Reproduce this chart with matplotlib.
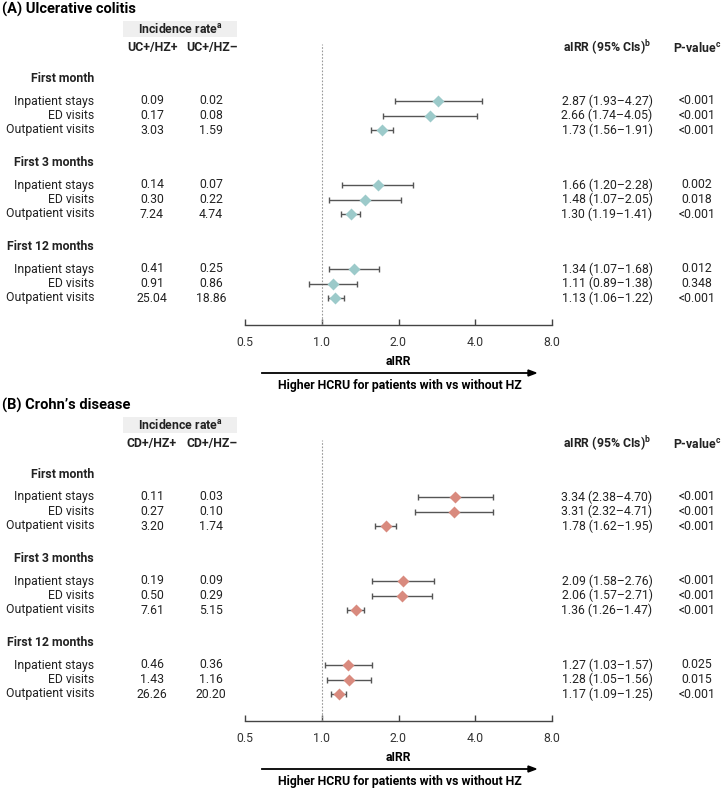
import matplotlib.pyplot as plt
from matplotlib.patches import Rectangle

plt.rcParams['font.family'] = ['Roboto', 'DejaVu Sans']

W, H = 722, 792

row_labels = ['Inpatient stays', 'ED visits', 'Outpatient visits']
period_labels = ['First month', 'First 3 months', 'First 12 months']

# Ulcerative colitis
uc_rate_pos = ['0.09', '0.17', '3.03', '0.14', '0.30', '7.24', '0.41', '0.91', '25.04']
uc_rate_neg = ['0.02', '0.08', '1.59', '0.07', '0.22', '4.74', '0.25', '0.86', '18.86']
uc_airr = [2.87, 2.66, 1.73, 1.66, 1.48, 1.30, 1.34, 1.11, 1.13]
uc_lo = [1.93, 1.74, 1.56, 1.20, 1.07, 1.19, 1.07, 0.89, 1.06]
uc_hi = [4.27, 4.05, 1.91, 2.28, 2.05, 1.41, 1.68, 1.38, 1.22]
uc_p = ['<0.001', '<0.001', '<0.001', '0.002', '0.018', '<0.001', '0.012', '0.348', '<0.001']

# Crohn's disease
cd_rate_pos = ['0.11', '0.27', '3.20', '0.19', '0.50', '7.61', '0.46', '1.43', '26.26']
cd_rate_neg = ['0.03', '0.10', '1.74', '0.09', '0.29', '5.15', '0.36', '1.16', '20.20']
cd_airr = [3.34, 3.31, 1.78, 2.09, 2.06, 1.36, 1.27, 1.28, 1.17]
cd_lo = [2.38, 2.32, 1.62, 1.58, 1.57, 1.26, 1.03, 1.05, 1.09]
cd_hi = [4.70, 4.71, 1.95, 2.76, 2.71, 1.47, 1.57, 1.56, 1.25]
cd_p = ['<0.001', '<0.001', '<0.001', '<0.001', '<0.001', '<0.001', '0.025', '0.015', '<0.001']

xticks = [0.5, 1.0, 2.0, 4.0, 8.0]

fig = plt.figure(figsize=(W / 100, H / 100), dpi=100)


def fx(x):
    return x / W


def fy(y):
    return 1 - y / H


def txt(x, y, s, **kw):
    kw.setdefault('fontsize', 8.8)
    kw.setdefault('va', 'center')
    kw.setdefault('color', '#222222')
    fig.text(fx(x), fy(y), s, **kw)


def panel(top, title, grp, rate_pos, rate_neg, airr, lo, hi, pvals, color):
    # y pixel offsets relative to panel top
    txt(2, top + 9, title, fontsize=10.5, weight='bold', ha='left', color='black')
    fig.add_artist(Rectangle((fx(123), fy(top + 37)), fx(237) - fx(123), 16 / H,
                             fc='#efefef', ec='none', zorder=0))
    txt(180, top + 29, 'Incidence rate$^{\\mathregular{a}}$', weight='bold', ha='center')
    txt(152, top + 48, grp + '+/HZ+', weight='bold', ha='center')
    txt(212, top + 48, grp + '+/HZ\u2013', weight='bold', ha='center')
    txt(607, top + 48, 'aIRR (95% CIs)$^{\\mathregular{b}}$', weight='bold', ha='center')
    txt(697, top + 48, 'P-value$^{\\mathregular{c}}$', weight='bold', ha='center')

    period_y = [top + 78, top + 162, top + 246]
    ys = []
    for k, py in enumerate(period_y):
        txt(94, py, period_labels[k], weight='bold', ha='right')
        for j in range(3):
            ys.append(py + 23 + j * 14.5)

    for i, y in enumerate(ys):
        txt(94, y, row_labels[i % 3], ha='right')
        txt(152, y, rate_pos[i], ha='center')
        txt(211, y, rate_neg[i], ha='center')
        txt(607, y, '%.2f (%.2f\u2013%.2f)' % (airr[i], lo[i], hi[i]), ha='center')
        txt(697, y, pvals[i], ha='center')

    ax_top, ax_bot = top + 44, top + 325
    ax = fig.add_axes([fx(245), fy(ax_bot), fx(552) - fx(245), (ax_bot - ax_top) / H])
    ax.set_xscale('log')
    ax.set_xlim(0.5, 8.0)
    ax.set_ylim(ax_bot, ax_top)
    ax.patch.set_alpha(0)
    for s in ['top', 'right', 'left']:
        ax.spines[s].set_visible(False)
    ax.spines['bottom'].set_color('#444444')
    ax.spines['bottom'].set_linewidth(1.0)
    ax.set_yticks([])
    ax.set_xticks(xticks)
    ax.set_xticklabels(['%.1f' % t for t in xticks], fontsize=8.8, color='#333333')
    ax.minorticks_off()
    ax.tick_params(axis='x', direction='in', length=4, width=1, color='#444444', pad=8)
    ax.set_xlabel('aIRR', fontsize=8.8, weight='bold', labelpad=4)
    ax.axvline(1.0, color='#999999', lw=0.8, ls=(0, (1.5, 1.5)))

    err = [[a - l for a, l in zip(airr, lo)], [h - a for a, h in zip(airr, hi)]]
    ax.errorbar(airr, ys, xerr=err, fmt='none', ecolor='#555555', elinewidth=1.0,
                capsize=2.5, capthick=1.0)
    ax.plot(airr, ys, 'D', color=color, ms=6.5, mec='none', zorder=3)

    # direction arrow
    ay = top + 373
    fig.add_artist(plt.Line2D([fx(262), fx(530)], [fy(ay), fy(ay)], color='black', lw=1.3))
    fig.add_artist(plt.Polygon([[fx(528), fy(ay - 3)], [fx(536), fy(ay)], [fx(528), fy(ay + 3)]],
                               closed=True, color='black'))
    txt(400, ay + 12, 'Higher HCRU for patients with vs without HZ', weight='bold',
        ha='center', color='black')


panel(0, '(A) Ulcerative colitis', 'UC', uc_rate_pos, uc_rate_neg, uc_airr, uc_lo, uc_hi,
      uc_p, '#9ccaca')
panel(396, "(B) Crohn\u2019s disease", 'CD', cd_rate_pos, cd_rate_neg, cd_airr, cd_lo, cd_hi,
      cd_p, '#d98a7e')

fig.savefig('out.png', dpi=100)
